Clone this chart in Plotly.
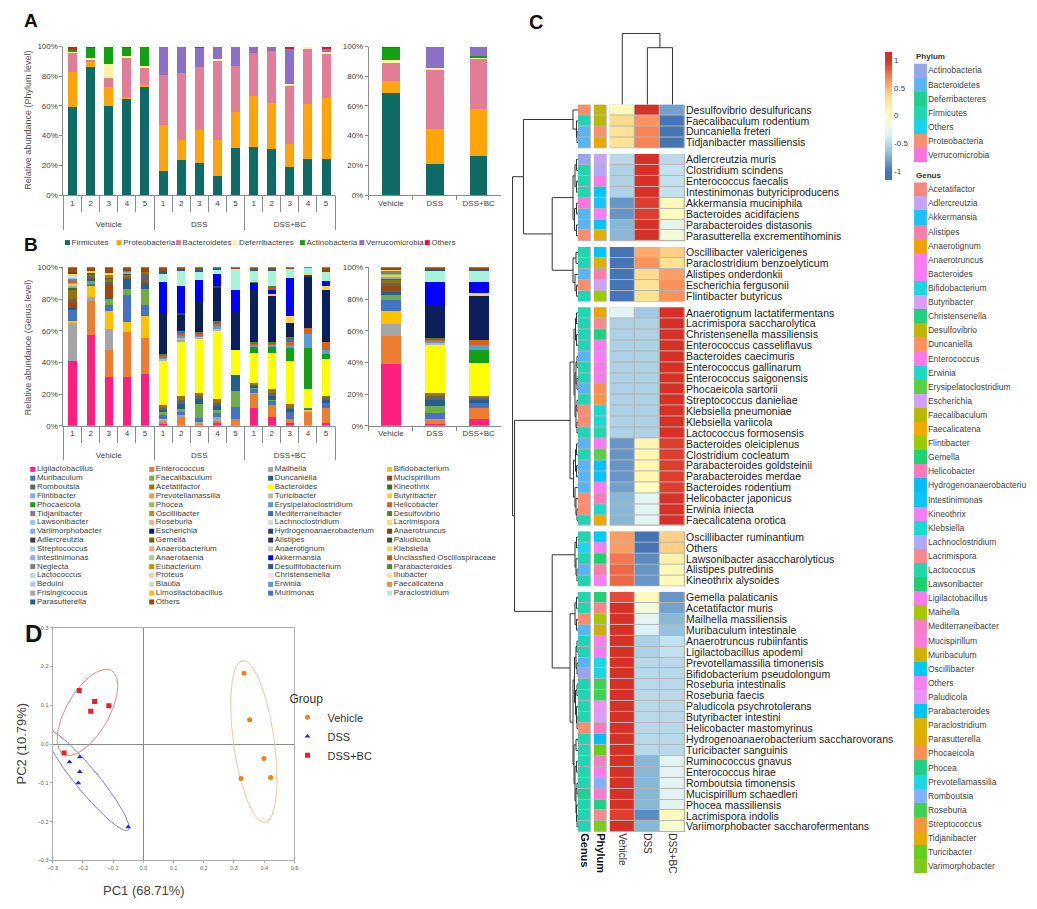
import numpy as np
import plotly.graph_objects as go

W, H = 1037, 909
FONT = "Liberation Sans, Arial, sans-serif"

# ======================= Panel A : phylum level =======================
groups = ["Vehicle", "DSS", "DSS+BC"]
sample_ids = ["1", "2", "3", "4", "5"]
phyla = ["Firmicutes", "Proteobacteria", "Bacteroidetes", "Deferribacteres",
         "Actinobacteria", "Verrucomicrobia", "Others"]
phylum_bar_colors = ["#0E6B66", "#FFA50A", "#E27D98", "#FFF3A3", "#12A112", "#8B6FC9", "#E01B1B"]
# 15 samples: Vehicle 1-5, DSS 1-5, DSS+BC 1-5
firmicutes = [59, 86, 60, 65.5, 73.5, 16, 23.5, 21.5, 13, 32, 32.5, 31, 19, 24, 24.5]
proteobacteria = [24, 3.5, 13, 0.5, 0.5, 31, 13.5, 22.5, 24, 24, 34.5, 31, 15.5, 37, 41]
bacteroidetes = [12.5, 2, 6, 27, 12.5, 34, 45, 42, 54, 31, 29, 35, 39.5, 37.5, 30]
deferribacteres = [1.5, 0.5, 9, 0.5, 0.5, 0, 0, 0, 0.5, 0, 0, 0, 1, 1.5, 1]
actinobacteria = [1, 7.5, 12, 6, 13, 0, 0, 0, 0, 0, 0, 0, 0, 0, 0]
verrucomicrobia = [0, 0, 0, 0, 0, 19, 18, 13.5, 8.5, 13, 4, 3, 24, 0, 2.5]
others_phylum = [2, 0.5, 0, 0.5, 0, 0, 0, 0.5, 0, 0, 0, 0, 1, 0, 1]
# group means: Vehicle, DSS, DSS+BC
firmicutes_mean = [69, 21, 26]
proteobacteria_mean = [8, 23.5, 32]
bacteroidetes_mean = [12, 40.5, 34.5]
deferribacteres_mean = [2, 0.5, 0.5]
actinobacteria_mean = [8.5, 0, 0.5]
verrucomicrobia_mean = [0, 14.5, 6.5]
others_phylum_mean = [0.5, 0, 0]

phylum_samples = [firmicutes, proteobacteria, bacteroidetes, deferribacteres,
                  actinobacteria, verrucomicrobia, others_phylum]
phylum_means = [firmicutes_mean, proteobacteria_mean, bacteroidetes_mean, deferribacteres_mean,
                actinobacteria_mean, verrucomicrobia_mean, others_phylum_mean]

# ======================= Panel B : genus level =======================
genus_col1 = ["Ligilactobacillus", "Muribaculum", "Romboutsia", "Flintibacter", "Phocaeicola",
              "Tidjanibacter", "Lawsonibacter", "Variimorphobacter", "Adlercreutzia", "Streptococcus",
              "Intestinimonas", "Neglecta", "Lactococcus", "Beduini", "Frisingicoccus", "Parasutterella"]
genus_col1_colors = ["#FF1F7E", "#4472C4", "#636363", "#7CAFDD", "#14A014", "#7F7F7F", "#9DC3E6",
                     "#8FAADC", "#3F3F3F", "#A9CBEA", "#9DA8F0", "#808080", "#BDD7EE", "#B4C7E7",
                     "#A5A5A5", "#2E5C8A"]
genus_col2 = ["Enterococcus", "Faecalibaculum", "Acetatifactor", "Prevotellamassilia", "Phocea",
              "Oscillibacter", "Roseburia", "Escherichia", "Gemella", "Anaerobacterium", "Anaerotaenia",
              "Eubacterium", "Proteus", "Blautia", "Limosilactobacillus", "Others"]
genus_col2_colors = ["#ED7D31", "#70AD47", "#997300", "#F1975A", "#8CC168", "#BF9000", "#F4B183",
                     "#0A1F5C", "#7F6000", "#F4A582", "#A9D18E", "#C09000", "#F8CBAD", "#C5E0B4",
                     "#FFC000", "#9E480E"]
genus_col3 = ["Mailhella", "Duncaniella", "Bacteroides", "Turicibacter", "Erysipelatoclostridium",
              "Mediterraneibacter", "Lachnoclostridium", "Hydrogenoanaerobacterium", "Alistipes",
              "Anaerotignum", "Akkermansia", "Desulfitobacterium", "Christensenella", "Erwinia", "Murimonas"]
genus_col3_colors = ["#A5A5A5", "#255E91", "#FFFF00", "#B7B7B7", "#5B9BD5", "#3A6FBF", "#D9D9D9",
                     "#264478", "#1F3864", "#C9C9C9", "#0000FF", "#2F5597", "#E7E6E6", "#5B9BD5", "#4472C4"]
genus_col4 = ["Bifidobacterium", "Mucispirillum", "Kineothrix", "Butyribacter", "Helicobacter",
              "Desulfovibrio", "Lacrimispora", "Anaerotruncus", "Paludicola", "Klebsiella",
              "Unclassfied Oscillospiraceae", "Parabacteroides", "Ihubacter", "Faecalicatena", "Paraclostridium"]
genus_col4_colors = ["#FFC000", "#9E480E", "#43682B", "#FFCD33", "#D9621A", "#548235", "#FFD966",
                     "#843C0C", "#375623", "#FFD34D", "#C55A11", "#4E8A2E", "#FFE699", "#F08A4B", "#A6F5D6"]

# relative abundance (%) per sample
V1 = {"Ligilactobacillus": 41, "Mailhella": 24, "Bifidobacterium": 1, "Muribaculum": 7, "Duncaniella": 2,
      "Mucispirillum": 3, "Romboutsia": 2, "Acetatifactor": 6, "Kineothrix": 1, "Flintibacter": 1.5,
      "Butyribacter": 1, "Phocea": 1, "Helicobacter": 1, "Tidjanibacter": 1, "Lawsonibacter": 1,
      "Lacrimispora": 1, "Anaerotruncus": 1.5, "Lachnoclostridium": 1, "Others": 3}
V2 = {"Ligilactobacillus": 57, "Enterococcus": 21.5, "Mailhella": 3, "Bifidobacterium": 7, "Muribaculum": 1,
      "Faecalibaculum": 2, "Duncaniella": 1, "Mucispirillum": 1, "Romboutsia": 1, "Acetatifactor": 1,
      "Kineothrix": 1, "Butyribacter": 1, "Lachnoclostridium": 0.5, "Others": 2}
V3 = {"Ligilactobacillus": 31, "Enterococcus": 17, "Mailhella": 13, "Bifidobacterium": 11.5, "Muribaculum": 3.5,
      "Faecalibaculum": 4, "Duncaniella": 0.5, "Mucispirillum": 9, "Romboutsia": 1, "Acetatifactor": 2,
      "Kineothrix": 1, "Tidjanibacter": 1, "Helicobacter": 1, "Lacrimispora": 1, "Others": 3.5}
V4 = {"Ligilactobacillus": 31, "Enterococcus": 28, "Bifidobacterium": 6.5, "Muribaculum": 17,
      "Faecalibaculum": 4, "Duncaniella": 6, "Mucispirillum": 0.5, "Romboutsia": 1, "Acetatifactor": 1,
      "Kineothrix": 1, "Flintibacter": 1, "Tidjanibacter": 1, "Others": 2}
V5 = {"Ligilactobacillus": 33, "Enterococcus": 22.5, "Bifidobacterium": 14, "Muribaculum": 7,
      "Faecalibaculum": 10, "Duncaniella": 3, "Mucispirillum": 1, "Romboutsia": 5, "Acetatifactor": 1.5,
      "Kineothrix": 1, "Others": 2}
D1 = {"Ligilactobacillus": 1, "Enterococcus": 1.5, "Mailhella": 1, "Bifidobacterium": 0.5, "Muribaculum": 2.5,
      "Faecalibaculum": 2.5, "Duncaniella": 1, "Romboutsia": 1, "Acetatifactor": 2, "Bacteroides": 28,
      "Turicibacter": 1, "Erysipelatoclostridium": 1, "Helicobacter": 1, "Desulfovibrio": 1,
      "Escherichia": 26, "Akkermansia": 20, "Paraclostridium": 5, "Parasutterella": 2, "Others": 2}
D2 = {"Enterococcus": 5.5, "Mailhella": 1, "Muribaculum": 2.5, "Faecalibaculum": 1.5, "Duncaniella": 3,
      "Romboutsia": 3, "Acetatifactor": 2.5, "Bacteroides": 34, "Flintibacter": 1, "Turicibacter": 1.5,
      "Erysipelatoclostridium": 1.5, "Helicobacter": 1, "Mediterraneibacter": 1, "Desulfovibrio": 1,
      "Escherichia": 10, "Hydrogenoanaerobacterium": 1, "Akkermansia": 17, "Paraclostridium": 10,
      "Parasutterella": 1, "Others": 1}
D3 = {"Enterococcus": 1.5, "Mailhella": 1, "Muribaculum": 2.5, "Faecalibaculum": 9, "Duncaniella": 3,
      "Romboutsia": 2, "Acetatifactor": 2, "Bacteroides": 34, "Turicibacter": 1, "Erysipelatoclostridium": 1,
      "Helicobacter": 1, "Desulfovibrio": 1, "Escherichia": 19, "Akkermansia": 14, "Paraclostridium": 5,
      "Parasutterella": 1.5, "Others": 1.5}
D4 = {"Ligilactobacillus": 1.5, "Enterococcus": 1.5, "Mailhella": 2.5, "Muribaculum": 2.5, "Faecalibaculum": 2,
      "Duncaniella": 2.5, "Romboutsia": 2, "Acetatifactor": 2.5, "Bacteroides": 43, "Turicibacter": 1,
      "Erysipelatoclostridium": 2, "Helicobacter": 1.5, "Desulfovibrio": 1.5, "Escherichia": 21,
      "Hydrogenoanaerobacterium": 1, "Akkermansia": 8, "Paraclostridium": 2.5, "Parasutterella": 1,
      "Others": 0.5}
D5 = {"Enterococcus": 4, "Muribaculum": 8, "Faecalibaculum": 10, "Duncaniella": 10, "Bacteroides": 16,
      "Escherichia": 24, "Akkermansia": 14, "Paraclostridium": 13, "Others": 1}
B1 = {"Ligilactobacillus": 11, "Enterococcus": 9, "Mailhella": 1, "Muribaculum": 2, "Faecalibaculum": 1,
      "Duncaniella": 1, "Romboutsia": 1, "Acetatifactor": 1, "Bacteroides": 19, "Phocaeicola": 4,
      "Erysipelatoclostridium": 1, "Helicobacter": 1, "Desulfovibrio": 1, "Escherichia": 33, "Akkermansia": 4,
      "Parabacteroides": 1, "Lactococcus": 1, "Paraclostridium": 6, "Parasutterella": 1, "Others": 1}
B2 = {"Ligilactobacillus": 5.5, "Enterococcus": 7.5, "Muribaculum": 3, "Faecalibaculum": 0.5, "Duncaniella": 2,
      "Romboutsia": 2.5, "Acetatifactor": 2, "Bacteroides": 23, "Phocaeicola": 4, "Erysipelatoclostridium": 1,
      "Helicobacter": 1, "Desulfovibrio": 1, "Escherichia": 29, "Klebsiella": 1, "Akkermansia": 3,
      "Unclassfied Oscillospiraceae": 1, "Parabacteroides": 1.5, "Paraclostridium": 9.5,
      "Parasutterella": 1, "Others": 1}
B3 = {"Ligilactobacillus": 1.5, "Enterococcus": 3, "Muribaculum": 4.5, "Duncaniella": 1.5, "Romboutsia": 1,
      "Acetatifactor": 2, "Bacteroides": 27.5, "Phocaeicola": 8, "Erysipelatoclostridium": 2, "Helicobacter": 2,
      "Mediterraneibacter": 1.5, "Desulfovibrio": 1.5, "Escherichia": 9, "Klebsiella": 4, "Akkermansia": 24,
      "Paraclostridium": 6, "Others": 1}
B4 = {"Enterococcus": 8.5, "Bifidobacterium": 1.5, "Muribaculum": 1, "Bacteroides": 12, "Phocaeicola": 26,
      "Erysipelatoclostridium": 9, "Helicobacter": 4, "Escherichia": 32, "Hydrogenoanaerobacterium": 1,
      "Klebsiella": 1, "Paraclostridium": 3.5, "Others": 0.5}
B5 = {"Ligilactobacillus": 2, "Enterococcus": 9, "Muribaculum": 3.5, "Duncaniella": 2, "Romboutsia": 1.5,
      "Acetatifactor": 1, "Bacteroides": 23, "Phocaeicola": 3, "Erysipelatoclostridium": 3, "Helicobacter": 5,
      "Escherichia": 33, "Klebsiella": 2.5, "Akkermansia": 3, "Paraclostridium": 5.5, "Parasutterella": 1,
      "Others": 2}
GV = {"Ligilactobacillus": 38.5, "Enterococcus": 18, "Mailhella": 7.5, "Bifidobacterium": 8, "Muribaculum": 7,
      "Faecalibaculum": 3, "Duncaniella": 2, "Mucispirillum": 4, "Romboutsia": 1.5, "Acetatifactor": 2,
      "Kineothrix": 1, "Flintibacter": 1, "Butyribacter": 1, "Phocea": 1, "Helicobacter": 0.5,
      "Tidjanibacter": 1, "Lawsonibacter": 0.5, "Lacrimispora": 0.5, "Others": 1.5}
GD = {"Ligilactobacillus": 1, "Enterococcus": 2.5, "Mailhella": 1, "Muribaculum": 3.5, "Faecalibaculum": 4.5,
      "Duncaniella": 4, "Romboutsia": 2, "Acetatifactor": 2, "Bacteroides": 30.5, "Turicibacter": 1,
      "Erysipelatoclostridium": 1.5, "Helicobacter": 1, "Desulfovibrio": 1, "Escherichia": 20.5,
      "Akkermansia": 15, "Paraclostridium": 7, "Parasutterella": 1, "Others": 1}
GB = {"Ligilactobacillus": 4, "Enterococcus": 7.5, "Muribaculum": 3, "Duncaniella": 2, "Romboutsia": 1,
      "Acetatifactor": 1, "Bacteroides": 21, "Phocaeicola": 8.5, "Erysipelatoclostridium": 3, "Helicobacter": 3,
      "Escherichia": 28, "Klebsiella": 2, "Akkermansia": 7, "Paraclostridium": 7, "Parasutterella": 1,
      "Others": 1}
genus_samples = [V1, V2, V3, V4, V5, D1, D2, D3, D4, D5, B1, B2, B3, B4, B5]
genus_groups = [GV, GD, GB]

# ======================= Panel C : heatmap =======================
row_names = [
    "Desulfovibrio desulfuricans", "Faecalibaculum rodentium", "Duncaniella freteri", "Tidjanibacter massiliensis",
    "Adlercreutzia muris", "Clostridium scindens", "Enterococcus faecalis", "Intestinimonas butyriciproducens",
    "Akkermansia muciniphila", "Bacteroides acidifaciens", "Parabacteroides distasonis",
    "Parasutterella excrementihominis",
    "Oscillibacter valericigenes", "Paraclostridium benzoelyticum", "Alistipes onderdonkii",
    "Escherichia fergusonii", "Flintibacter butyricus",
    "Anaerotignum lactatifermentans", "Lacrimispora saccharolytica", "Christensenella massiliensis",
    "Enterococcus casseliflavus", "Bacteroides caecimuris", "Enterococcus gallinarum", "Enterococcus saigonensis",
    "Phocaeicola sartorii", "Streptococcus danieliae", "Klebsiella pneumoniae", "Klebsiella variicola",
    "Lactococcus formosensis", "Bacteroides oleiciplenus", "Clostridium cocleatum", "Parabacteroides goldsteinii",
    "Parabacteroides merdae", "Bacteroides rodentium", "Helicobacter japonicus", "Erwinia iniecta",
    "Faecalicatena orotica",
    "Oscillibacter ruminantium", "Others", "Lawsonibacter asaccharolyticus", "Alistipes putredinis",
    "Kineothrix alysoides",
    "Gemella palaticanis", "Acetatifactor muris", "Mailhella massiliensis", "Muribaculum intestinale",
    "Anaerotruncus rubiinfantis", "Ligilactobacillus apodemi", "Prevotellamassilia timonensis",
    "Bifidobacterium pseudolongum", "Roseburia intestinalis", "Roseburia faecis", "Paludicola psychrotolerans",
    "Butyribacter intestini", "Helicobacter mastomyrinus", "Hydrogenoanaerobacterium saccharovorans",
    "Turicibacter sanguinis", "Ruminococcus gnavus", "Enterococcus hirae", "Romboutsia timonensis",
    "Mucispirillum schaedleri", "Phocea massiliensis", "Lacrimispora indolis",
    "Variimorphobacter saccharofermentans"]
group_sizes = [4, 8, 5, 20, 5, 22]
heat_vehicle = [0.05, 0.35, 0.3, 0.3,
                -0.5, -0.55, -0.55, -0.55, -0.85, -0.85, -0.7, -0.7,
                -1, -1, -1, -1, -1,
                -0.3, -0.55, -0.55, -0.55, -0.55, -0.55, -0.55, -0.55, -0.55, -0.55, -0.55, -0.55,
                -0.85, -0.85, -0.85, -0.85, -0.8, -0.7, -0.7, -0.7,
                0.6, 0.6, 0.75, 0.8, 0.8,
                0.9, 1, 1, 1, 1, 1, 1, 1, 1, 1, 1, 1, 1, 1, 1, 1, 1, 1, 1, 1, 0.95, 1]
heat_dss = [1, 0.65, 0.7, 0.7,
            1, 1, 1, 1, 0.95, 0.95, 1, 1,
            0.55, 0.65, 0.35, 0.3, 0.3,
            -0.6, -0.55, -0.55, -0.55, -0.55, -0.55, -0.55, -0.55, -0.55, -0.55, -0.55, -0.55,
            0.1, 0.1, 0.1, 0.1, 0.0, -0.3, -0.3, -0.3,
            -1, -1, -0.9, -0.85, -0.85,
            0.05, -0.15, -0.3, -0.35, -0.55, -0.55, -0.5, -0.5, -0.5, -0.5, -0.5, -0.5, -0.5, -0.5, -0.5,
            -0.7, -0.7, -0.7, -0.7, -0.7, -0.9, -0.7]
heat_dssbc = [-0.8, -1, -1, -1,
              -0.5, -0.45, -0.45, -0.45, 0.05, 0.0, -0.25, -0.15,
              0.4, 0.3, 0.6, 0.65, 0.65,
              1, 1, 1, 1, 1, 1, 1, 1, 1, 1, 1, 1,
              0.95, 0.95, 0.95, 0.95, 0.95, 1, 1, 1,
              0.4, 0.4, 0.15, 0.05, 0.05,
              -0.85, -0.8, -0.7, -0.65, -0.45, -0.45, -0.5, -0.5, -0.5, -0.5, -0.5, -0.5, -0.5, -0.5, -0.5,
              -0.3, -0.3, -0.3, -0.3, -0.3, 0.05, -0.1]
row_phylum = ["Proteobacteria", "Firmicutes", "Bacteroidetes", "Bacteroidetes",
              "Actinobacteria", "Firmicutes", "Firmicutes", "Firmicutes", "Verrucomicrobia", "Bacteroidetes",
              "Bacteroidetes", "Proteobacteria",
              "Firmicutes", "Firmicutes", "Bacteroidetes", "Proteobacteria", "Firmicutes",
              "Firmicutes", "Firmicutes", "Firmicutes", "Firmicutes", "Bacteroidetes", "Firmicutes", "Firmicutes",
              "Bacteroidetes", "Firmicutes", "Proteobacteria", "Proteobacteria", "Firmicutes", "Bacteroidetes",
              "Firmicutes", "Bacteroidetes", "Bacteroidetes", "Bacteroidetes", "Proteobacteria", "Proteobacteria",
              "Firmicutes",
              "Firmicutes", "Others", "Firmicutes", "Bacteroidetes", "Firmicutes",
              "Firmicutes", "Firmicutes", "Proteobacteria", "Bacteroidetes", "Firmicutes", "Firmicutes",
              "Bacteroidetes", "Actinobacteria", "Firmicutes", "Firmicutes", "Firmicutes", "Firmicutes",
              "Proteobacteria", "Firmicutes", "Firmicutes", "Firmicutes", "Firmicutes", "Firmicutes",
              "Deferribacteres", "Firmicutes", "Firmicutes", "Firmicutes"]
row_genus = ["Desulfovibrio", "Faecalibaculum", "Duncaniella", "Tidjanibacter",
             "Adlercreutzia", "Lachnoclostridium", "Enterococcus", "Intestinimonas", "Akkermansia", "Bacteroides",
             "Parabacteroides", "Parasutterella",
             "Oscillibacter", "Paraclostridium", "Alistipes", "Escherichia", "Flintibacter",
             "Anaerotignum", "Lacrimispora", "Christensenella", "Enterococcus", "Bacteroides", "Enterococcus",
             "Enterococcus", "Phocaeicola", "Streptococcus", "Klebsiella", "Klebsiella", "Lactococcus",
             "Bacteroides", "Erysipelatoclostridium", "Parabacteroides", "Parabacteroides", "Bacteroides",
             "Helicobacter", "Erwinia", "Faecalicatena",
             "Oscillibacter", "Others", "Lawsonibacter", "Alistipes", "Kineothrix",
             "Gemella", "Acetatifactor", "Maihella", "Muribaculum", "Anaerotruncus", "Ligilactobacillus",
             "Prevotellamassilia", "Bifidobacterium", "Roseburia", "Roseburia", "Paludicola", "Butyribacter",
             "Helicobacter", "Hydrogenoanaerobacteriu", "Turicibacter", "Mediterraneibacter", "Enterococcus",
             "Romboutsia", "Mucispirillum", "Phocea", "Lacrimispora", "Varimorphobacter"]

c_phyla = ["Actinobacteria", "Bacteroidetes", "Deferribacteres", "Firmicutes", "Others",
           "Proteobacteria", "Verrucomicrobia"]
c_phyla_colors = ["#94A6EE", "#58B5F2", "#23CF8E", "#21D4B2", "#1BD3F0", "#F98D6E", "#F676DD"]
c_genera = ["Acetatifactor", "Adlercreutzia", "Akkermansia", "Alistipes", "Anaerotignum", "Anaerotruncus",
            "Bacteroides", "Bifidobacterium", "Butyribacter", "Christensenella", "Desulfovibrio", "Duncaniella",
            "Enterococcus", "Erwinia", "Erysipelatoclostridium", "Escherichia", "Faecalibaculum", "Faecalicatena",
            "Flintibacter", "Gemella", "Helicobacter", "Hydrogenoanaerobacteriu", "Intestinimonas", "Kineothrix",
            "Klebsiella", "Lachnoclostridium", "Lacrimispora", "Lactococcus", "Lawsonibacter",
            "Ligilactobacillus", "Maihella", "Mediterraneibacter", "Mucispirillum", "Muribaculum",
            "Oscillibacter", "Others", "Paludicola", "Parabacteroides", "Paraclostridium", "Parasutterella",
            "Phocaeicola", "Phocea", "Prevotellamassilia", "Romboutsia", "Roseburia", "Streptococcus",
            "Tidjanibacter", "Turicibacter", "Varimorphobacter"]
c_genera_colors = ["#F8877E", "#C6A3F9", "#19C3F7", "#F680A8", "#EFA300", "#FA7DF0", "#F87CF6", "#1ED6E2",
                   "#D99FF8", "#1FD17E", "#C3B600", "#F99163", "#FB7AEA", "#20D8C6", "#58D145", "#CFA2F9",
                   "#B9B900", "#F2A800", "#9CC900", "#1FD173", "#F67BB9", "#00BDF8", "#06C6F9", "#F87CF3",
                   "#1BD8D0", "#AFA9FA", "#F7888D", "#22D6AC", "#1CD06C", "#F77BF0", "#A6C700", "#F57EC3",
                   "#F77CD6", "#CBB300", "#00C7F7", "#F67FF1", "#E993F7", "#00C4F8", "#DAB200", "#E1AD00",
                   "#F98F50", "#1ED183", "#1CD7E1", "#80B1FA", "#3FD155", "#F99441", "#E9AA00", "#66CF1B",
                   "#7FCB1B"]

# hierarchical clustering of rows: (height, left, right); leaves are row indices
G1 = (5, 0, (1.5, 1, (1, 2, 3)))
G2 = (5, (3, (1.5, 4, 5), (1.5, 6, 7)), (3.5, (1.5, 8, 9), (1.5, 10, 11)))
G3 = (5, (2, 12, 13), (3, 14, (1.5, 15, 16)))
G4a = (4, (2.5, (1.5, 17, 18), (1.5, 19, 20)), (3, (2, (1, 21, 22), (1, 23, 24)), (2, (1, 25, 26), (1, 27, 28))))
G4b = (4.5, (2.5, (1.5, 29, 30), (1.5, 31, 32)), (3, 33, (2, 34, (1, 35, 36))))
G5 = (3, (1.5, 37, 38), (2, 39, (1, 40, 41)))
G6a = (3, (1.5, 42, 43), (1.5, 44, 45))
G6b = (5, (3.5, (2, (1, 46, 47), (1, 48, 49)), (2.5, (1, 50, 51), (1.5, 52, (1, 53, 54)))),
       (4, (2, 55, 56), (3, (1.5, 57, 58), (2, (1, 59, 60), (1.5, 61, (1, 62, 63))))))
row_tree = (66, (55, G1, (26, G2, G3)), (64, (8, G4a, G4b), (26, G5, (8, G6a, G6b))))
col_tree = (2.0, 0, (1.6, 1, 2))

# ======================= Panel D : PCA =======================
pc_vehicle_x = [0.333, 0.352, 0.399, 0.323, 0.421]
pc_vehicle_y = [0.183, 0.063, -0.037, -0.089, -0.086]
pc_dss_x = [-0.244, -0.210, -0.210, -0.215, -0.050]
pc_dss_y = [-0.046, -0.033, -0.071, -0.100, -0.214]
pc_bc_x = [-0.212, -0.161, -0.174, -0.114, -0.262]
pc_bc_y = [0.138, 0.110, 0.085, 0.099, -0.023]


# ======================= helpers =======================
def xdom(a, b):
    return [a / W, b / W]


def ydom(top, bot):
    return [1 - bot / H, 1 - top / H]


def px(x):
    return x / W


def py(y):
    return 1 - y / H


def discrete_scale(colors):
    n = len(colors)
    cs = []
    for i, c in enumerate(colors):
        cs.append([i / n, c])
        cs.append([(i + 1) / n, c])
    return cs


def dendro_lines(tree, leaf_pos):
    hs, ps = [], []

    def rec(n):
        if isinstance(n, int):
            return leaf_pos[n], 0.0
        h, a, b = n
        pa, ha = rec(a)
        pb, hb = rec(b)
        hs.extend([ha, h, h, hb, None])
        ps.extend([pa, pa, pb, pb, None])
        return (pa + pb) / 2, h

    rec(tree)
    return hs, ps


def conf_ellipse(xs, ys, k=1.8, n=120):
    xs, ys = np.asarray(xs), np.asarray(ys)
    vals, vecs = np.linalg.eigh(np.cov(xs, ys))
    t = np.linspace(0, 2 * np.pi, n)
    circ = np.stack([np.cos(t), np.sin(t)])
    pts = k * (vecs @ (np.sqrt(vals)[:, None] * circ))
    return xs.mean() + pts[0], ys.mean() + pts[1]


fig = go.Figure()

# ---------- Panel A bars ----------
# outer level gets a leading line break so the group names sit lower, as in the reference
multi_x = [["<br>" + g for g in groups for _ in sample_ids], [s for _ in groups for s in sample_ids]]
for name, vals, col in zip(phyla, phylum_samples, phylum_bar_colors):
    fig.add_trace(go.Bar(x=multi_x, y=vals, name=name, marker=dict(color=col, line=dict(width=0)),
                         width=0.5, xaxis="x", yaxis="y", showlegend=False, hoverinfo="skip"))
for name, vals, col in zip(phyla, phylum_means, phylum_bar_colors):
    fig.add_trace(go.Bar(x=groups, y=vals, name=name, marker=dict(color=col, line=dict(width=0)),
                         width=0.4, xaxis="x2", yaxis="y2", showlegend=False, hoverinfo="skip"))

# ---------- Panel B bars ----------
genus_cols = [genus_col1, genus_col2, genus_col3, genus_col4]
genus_col_colors = [genus_col1_colors, genus_col2_colors, genus_col3_colors, genus_col4_colors]
genus_order, genus_color = [], {}
for r in range(max(len(c) for c in genus_cols)):
    for c, cc in zip(genus_cols, genus_col_colors):
        if r < len(c):
            genus_order.append(c[r])
            genus_color[c[r]] = cc[r]
s_tot = [sum(d.values()) for d in genus_samples]
g_tot = [sum(d.values()) for d in genus_groups]
for gname in genus_order:
    ys = [d.get(gname, 0) / t * 100 for d, t in zip(genus_samples, s_tot)]
    yg = [d.get(gname, 0) / t * 100 for d, t in zip(genus_groups, g_tot)]
    fig.add_trace(go.Bar(x=multi_x, y=ys, name=gname, marker=dict(color=genus_color[gname], line=dict(width=0)),
                         width=0.45, xaxis="x3", yaxis="y3", showlegend=False, hoverinfo="skip"))
    fig.add_trace(go.Bar(x=groups, y=yg, name=gname, marker=dict(color=genus_color[gname], line=dict(width=0)),
                         width=0.45, xaxis="x4", yaxis="y4", showlegend=False, hoverinfo="skip"))

# ---------- Panel D scatter ----------
pca_sets = [("Vehicle", pc_vehicle_x, pc_vehicle_y, "#F07F1E", "circle", "#F5C89A"),
            ("DSS", pc_dss_x, pc_dss_y, "#2424E0", "triangle-up", "#8484D8"),
            ("DSS+BC", pc_bc_x, pc_bc_y, "#E8202A", "square", "#E08A8A")]
for name, xs, ys, col, sym, ecol in pca_sets:
    ex, ey = conf_ellipse(xs, ys)
    fig.add_trace(go.Scatter(x=ex, y=ey, mode="lines", line=dict(color=ecol, width=1),
                             xaxis="x5", yaxis="y5", showlegend=False, hoverinfo="skip"))
for name, xs, ys, col, sym, ecol in pca_sets:
    fig.add_trace(go.Scatter(x=xs, y=ys, mode="markers", name=name,
                             marker=dict(color=col, symbol=sym, size=5, line=dict(width=0)),
                             xaxis="x5", yaxis="y5", showlegend=True))

# ---------- Panel C heatmap ----------
GAP = 0.526
row_pos = []
i = 0
for g, n in enumerate(group_sizes):
    for _ in range(n):
        row_pos.append(i + g * GAP)
        i += 1
yr = [row_pos[-1] + 0.5, -0.5]

ZMAX = 1.15
base = ["#4575B4", "#91BFDB", "#E0F3F8", "#FFFFBF", "#FEE090", "#FC8D59", "#D73027"]
bvals = np.linspace(-1, 1, len(base))
heat_scale = [[0.0, base[0]]] + [[(v + ZMAX) / (2 * ZMAX), c] for v, c in zip(bvals, base)] + [[1.0, base[-1]]]

phy_idx = {p: k for k, p in enumerate(c_phyla)}
gen_idx = {g: k for k, g in enumerate(c_genera)}
shapes = []
start = 0
for g, n in enumerate(group_sizes):
    rows = list(range(start, start + n))
    ys = [row_pos[r] for r in rows]
    z = [[heat_vehicle[r], heat_dss[r], heat_dssbc[r]] for r in rows]
    fig.add_trace(go.Heatmap(x=[0, 1, 2], y=ys, z=z, zmin=-ZMAX, zmax=ZMAX, colorscale=heat_scale,
                             xgap=1, ygap=1, showscale=(g == 0), hoverinfo="skip",
                             xaxis="x6", yaxis="y6",
                             colorbar=dict(x=px(888), xanchor="left", y=py(48), yanchor="top",
                                           len=129 / H, lenmode="fraction", thickness=7,
                                           thicknessmode="pixels", outlinewidth=0, ticks="",
                                           tickvals=[-1, -0.5, 0, 0.5, 1], ticktext=["-1", "-0.5", "0", "0.5", "1"],
                                           tickfont=dict(size=8, color="#444"), xpad=0, ypad=0)))
    fig.add_trace(go.Heatmap(x=[0], y=ys, z=[[phy_idx[row_phylum[r]]] for r in rows],
                             zmin=-0.5, zmax=len(c_phyla) - 0.5, colorscale=discrete_scale(c_phyla_colors),
                             xgap=1, ygap=1, showscale=False, hoverinfo="skip", xaxis="x7", yaxis="y7"))
    fig.add_trace(go.Heatmap(x=[0], y=ys, z=[[gen_idx[row_genus[r]]] for r in rows],
                             zmin=-0.5, zmax=len(c_genera) - 0.5, colorscale=discrete_scale(c_genera_colors),
                             xgap=1, ygap=1, showscale=False, hoverinfo="skip", xaxis="x8", yaxis="y8"))
    for ax in ["6", "7", "8"]:
        shapes.append(dict(type="rect", xref=f"x{ax} domain", yref=f"y{ax}", x0=0, x1=1,
                           y0=ys[0] - 0.5, y1=ys[-1] + 0.5, fillcolor="#B5B5B5",
                           line=dict(width=0), layer="below"))
    start += n

# dendrograms
hs, ps = dendro_lines(row_tree, row_pos)
fig.add_trace(go.Scatter(x=hs, y=ps, mode="lines", line=dict(color="#333", width=1),
                         xaxis="x9", yaxis="y9", showlegend=False, hoverinfo="skip"))
hs, ps = dendro_lines(col_tree, [0, 1, 2])
fig.add_trace(go.Scatter(x=ps, y=hs, mode="lines", line=dict(color="#333", width=1),
                         xaxis="x10", yaxis="y10", showlegend=False, hoverinfo="skip"))

# annotation-colour legends of panel C
fig.add_trace(go.Heatmap(x=[0], y=list(range(len(c_phyla))), z=[[k] for k in range(len(c_phyla))],
                         zmin=-0.5, zmax=len(c_phyla) - 0.5, colorscale=discrete_scale(c_phyla_colors),
                         showscale=False, hoverinfo="skip", xaxis="x11", yaxis="y11"))
fig.add_trace(go.Heatmap(x=[0], y=list(range(len(c_genera))), z=[[k] for k in range(len(c_genera))],
                         zmin=-0.5, zmax=len(c_genera) - 0.5, colorscale=discrete_scale(c_genera_colors),
                         showscale=False, hoverinfo="skip", xaxis="x12", yaxis="y12"))

# ---------- legends for A and B (overlay in pixel coordinates) ----------
legA_x = [63, 115, 175, 232, 300, 360, 426]
fig.add_trace(go.Scatter(x=legA_x, y=[241] * len(phyla), mode="markers+text", text=phyla,
                         textposition="middle right", textfont=dict(size=8, color="#444", family=FONT),
                         marker=dict(symbol="square", size=5, color=phylum_bar_colors),
                         xaxis="x13", yaxis="y13", showlegend=False, hoverinfo="skip"))
legB_colx = [28, 148, 268, 388]
lx, ly, lt, lc = [], [], [], []
for c, (names, cols) in enumerate(zip(genus_cols, genus_col_colors)):
    for r, (nm, cl) in enumerate(zip(names, cols)):
        lx.append(legB_colx[c])
        ly.append(470 + r * 8.93)
        lt.append(nm)
        lc.append(cl)
fig.add_trace(go.Scatter(x=lx, y=ly, mode="markers+text", text=lt, textposition="middle right",
                         textfont=dict(size=8, color="#444", family=FONT),
                         marker=dict(symbol="square", size=5, color=lc),
                         xaxis="x13", yaxis="y13", showlegend=False, hoverinfo="skip"))

# ======================= layout =======================
bar_y = dict(range=[0, 100], dtick=20, ticksuffix="%", showline=True, linecolor="#8c8c8c", linewidth=1,
             ticks="outside", ticklen=3, tickcolor="#8c8c8c", tickfont=dict(size=8, color="#444"),
             showgrid=False, zeroline=False)
mc_x = dict(type="multicategory", showline=True, linecolor="#8c8c8c", ticks="outside", tickson="boundaries",
            ticklen=16, tickcolor="#8c8c8c", showdividers=True, dividercolor="#8c8c8c", dividerwidth=1,
            tickfont=dict(size=8, color="#444"), showgrid=False)
cat_x = dict(type="category", showline=True, linecolor="#8c8c8c", ticks="outside", tickson="boundaries",
             ticklen=4, tickcolor="#8c8c8c", tickfont=dict(size=8, color="#444"), showgrid=False)
pca_ax = dict(dtick=0.1, tickformat=".1f", showline=True, mirror=True, linecolor="#b0b0b0",
              zeroline=True, zerolinecolor="#8a8a8a", zerolinewidth=1, showgrid=False, ticks="outside",
              ticklen=2, tickcolor="#b0b0b0", tickfont=dict(size=5.5, color="#666"))
hidden = dict(visible=False, showgrid=False, zeroline=False)

annotations = [
    dict(x=px(26), y=py(17), text="<b>A</b>", font=dict(size=19, color="#111")),
    dict(x=px(26), y=py(243), text="<b>B</b>", font=dict(size=19, color="#111")),
    dict(x=px(536), y=py(18), text="<b>C</b>", font=dict(size=20, color="#111")),
    dict(x=px(29), y=py(636), text="<b>D</b>", font=dict(size=24, color="#111")),
    dict(x=px(23), y=py(117), text="Relative abundance (Phylum level)", textangle=-90,
         font=dict(size=9, color="#555")),
    dict(x=px(23), y=py(347), text="Relative abundance (Genus level)", textangle=-90,
         font=dict(size=9, color="#555")),
    dict(x=px(140), y=py(895), text="PC1 (68.71%)", font=dict(size=13, color="#444")),
    dict(x=px(17), y=py(747), text="PC2 (10.79%)", textangle=-90, font=dict(size=13, color="#444")),
    dict(x=px(917), y=py(53), text="<b>Phylum</b>", xanchor="left", font=dict(size=8, color="#333")),
    dict(x=px(917), y=py(173), text="<b>Genus</b>", xanchor="left", font=dict(size=8, color="#333")),
]
for a in annotations:
    a.update(xref="paper", yref="paper", showarrow=False)
    a.setdefault("xanchor", "center")
    a.setdefault("yanchor", "middle")

fig.update_layout(
    width=W, height=H, margin=dict(l=0, r=0, t=0, b=0),
    paper_bgcolor="white", plot_bgcolor="rgba(0,0,0,0)",
    font=dict(family=FONT, color="#333"),
    barmode="stack", bargap=0.5,
    showlegend=True,
    legend=dict(x=px(285), y=py(690), xanchor="left", yanchor="top", bgcolor="rgba(0,0,0,0)",
                traceorder="normal",
                title=dict(text="Group", font=dict(size=12, color="#333")),
                font=dict(size=11, color="#333"), itemsizing="trace", tracegroupgap=0),
    xaxis=dict(domain=xdom(59, 333), anchor="y", **mc_x),
    yaxis=dict(domain=ydom(43, 193), anchor="x", **bar_y),
    xaxis2=dict(domain=xdom(367, 500), anchor="y2", **cat_x),
    yaxis2=dict(domain=ydom(43, 193), anchor="x2", **bar_y),
    xaxis3=dict(domain=xdom(59, 333), anchor="y3", **mc_x),
    yaxis3=dict(domain=ydom(266, 426), anchor="x3", **bar_y),
    xaxis4=dict(domain=xdom(367, 500), anchor="y4", **cat_x),
    yaxis4=dict(domain=ydom(266, 426), anchor="x4", **bar_y),
    xaxis5=dict(domain=xdom(48, 292), anchor="y5", range=[-0.3, 0.5], tick0=-0.3, **pca_ax),
    yaxis5=dict(domain=ydom(630, 865), anchor="x5", range=[-0.3, 0.3], tick0=-0.3, **pca_ax),
    xaxis6=dict(domain=xdom(610, 686), anchor="y6", range=[-0.5, 2.5], tickvals=[0, 1, 2], ticktext=groups,
                tickangle=90, tickfont=dict(size=10, color="#333"), ticks="", showgrid=False, zeroline=False),
    yaxis6=dict(domain=ydom(101.5, 836.5), anchor="x6", side="right", range=yr, tickvals=row_pos,
                ticktext=row_names, tickfont=dict(size=10.5, color="#222"), ticks="", showgrid=False,
                zeroline=False),
    xaxis7=dict(domain=xdom(578, 591), anchor="y7", range=[-0.5, 0.5], tickvals=[0],
                ticktext=["<b>Genus</b>"], tickangle=90, tickfont=dict(size=11, color="#111"), ticks="",
                showgrid=False, zeroline=False),
    yaxis7=dict(domain=ydom(101.5, 836.5), anchor="x7", range=yr, **hidden),
    xaxis8=dict(domain=xdom(594, 607), anchor="y8", range=[-0.5, 0.5], tickvals=[0],
                ticktext=["<b>Phylum</b>"], tickangle=90, tickfont=dict(size=11, color="#111"), ticks="",
                showgrid=False, zeroline=False),
    yaxis8=dict(domain=ydom(101.5, 836.5), anchor="x8", range=yr, **hidden),
    xaxis9=dict(domain=xdom(505, 578), anchor="y9", range=[73, 0], **hidden),
    yaxis9=dict(domain=ydom(101.5, 836.5), anchor="x9", range=yr, **hidden),
    xaxis10=dict(domain=xdom(610, 686), anchor="y10", range=[-0.5, 2.5], **hidden),
    yaxis10=dict(domain=ydom(28, 101.5), anchor="x10", range=[0, 2.05], **hidden),
    xaxis11=dict(domain=xdom(917, 930), anchor="y11", range=[-0.5, 0.5], **hidden),
    yaxis11=dict(domain=ydom(60, 160), anchor="x11", side="right", range=[len(c_phyla) - 0.5, -0.5],
                 tickvals=list(range(len(c_phyla))), ticktext=c_phyla, ticks="",
                 tickfont=dict(size=8.5, color="#444"), showgrid=False, zeroline=False, showline=False),
    xaxis12=dict(domain=xdom(917, 930), anchor="y12", range=[-0.5, 0.5], **hidden),
    yaxis12=dict(domain=ydom(180, 878), anchor="x12", side="right", range=[len(c_genera) - 0.5, -0.5],
                 tickvals=list(range(len(c_genera))), ticktext=c_genera, ticks="",
                 tickfont=dict(size=8.5, color="#444"), showgrid=False, zeroline=False, showline=False),
    xaxis13=dict(domain=[0, 1], anchor="y13", range=[0, W], **hidden),
    yaxis13=dict(domain=[0, 1], anchor="x13", range=[H, 0], **hidden),
    shapes=shapes,
    annotations=annotations,
)

fig.write_html("out.html", config={"displayModeBar": False},
               post_script="document.body.style.margin='0';")
